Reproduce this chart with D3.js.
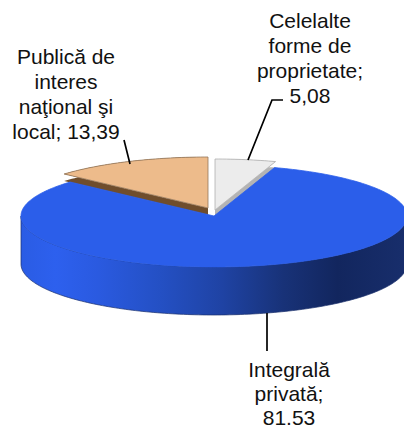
<!DOCTYPE html>
<html>
<head>
<meta charset="utf-8">
<script src="https://cdn.jsdelivr.net/npm/d3@7"></script>
<style>
html, body { margin: 0; padding: 0; background: #fff; overflow: hidden; }
svg { display: block; }
text { font-family: "Liberation Sans", Arial, sans-serif; font-size: 21px; fill: #111; }
</style>
</head>
<body>
<svg id="chart" width="404" height="430"></svg>
<script>
// order is clockwise from 12 o'clock, same as the picture
var categories = ['Celelalte forme de proprietate', 'Integrală privată', 'Publică de interes național și local'];
var values = [5.08, 81.53, 13.39];
var labelLines = [
  ['Celelalte', 'forme de', 'proprietate;', '5,08'],
  ['Integrală', 'privată;', '81.53'],
  ['Publică de', 'interes', 'naţional şi', 'local; 13,39']
];
var topColors = ['#ececec', '#2b5eea', '#edbb8b'];
var wallColors = ['#b4b4b4', '#2b5eea', '#6f4d2c'];
var edgeColors = ['#b0b0b0', '#2b5eea', '#94775a'];

var width = 404, height = 430;
var rx = 193, ry = 51, depth = 48;
var center = {x: 214, y: 216};
// exploded slices sit a bit off the main disc
var shift = [{x: 1, y: -6}, {x: 0, y: 0}, {x: -6, y: -8}];
var wallDepth = [6, depth, 7];
// bottom label pulled up a little so its last line stays inside the window
var labelPos = [{x: 310, y: 28}, {x: 289, y: 377}, {x: 66, y: 64}];
var lineH = [25, 24, 25];

var leaders = [
  [[283, 100], [272, 100], [248, 160]],
  [[267, 313], [267, 351]],
  [[124, 140], [130, 164]]
];

var svg = d3.select('#chart');
var xScale = d3.scaleLinear().domain([-1, 1]).range([-rx, rx]);
var yScale = d3.scaleLinear().domain([-1, 1]).range([-ry, ry]);

var pie = d3.pie().sort(null).startAngle(0).endAngle(2 * Math.PI);
var arcs = pie(values);

var line = d3.line().x(function(d) { return d[0]; }).y(function(d) { return d[1]; });

function rim(a0, a1, cx, cy) {
  var n = Math.max(2, Math.ceil((a1 - a0) / 0.02));
  return d3.range(n + 1).map(function(i) {
    var a = a0 + (a1 - a0) * i / n;
    return [cx + xScale(Math.sin(a)), cy + yScale(-Math.cos(a))];
  });
}

var grad = svg.append('defs').append('linearGradient')
  .attr('id', 'wall').attr('gradientUnits', 'userSpaceOnUse')
  .attr('x1', center.x - rx).attr('x2', center.x + rx).attr('y1', 0).attr('y2', 0);
[[0, '#2a5ce4'], [0.09, '#2d60ee'], [0.2, '#2a5ae0'], [0.36, '#2450c4'], [0.52, '#1f43a4'],
 [0.68, '#183278'], [0.82, '#12265e'], [1, '#182e6c']].forEach(function(s) {
  grad.append('stop').attr('offset', s[0]).attr('stop-color', s[1]);
});

function drawSlice(i) {
  var d = arcs[i];
  var cx = center.x + shift[i].x, cy = center.y + shift[i].y, h = wallDepth[i];
  var pts = rim(d.startAngle, d.endAngle, cx, cy);
  var g = svg.append('g');

  // walls first, whatever is hidden gets painted over by the top face
  if (i == 1) {
    var front = rim(Math.PI / 2, 3 * Math.PI / 2, cx, cy);
    var low = front.map(function(p) { return [p[0], p[1] + h]; }).reverse();
    g.append('path')
      .attr('d', line(front.concat(low)) + 'Z')
      .attr('fill', 'url(#wall)')
      .attr('stroke', '#1a2f6c').attr('stroke-width', 0.7);
  } else {
    var wall = [[cx, cy]].concat(pts).concat([[cx, cy]]);
    var low2 = wall.map(function(p) { return [p[0], p[1] + h]; }).reverse();
    g.append('path')
      .attr('d', line(wall.concat(low2)) + 'Z')
      .attr('fill', wallColors[i]);
  }

  g.append('path')
    .attr('d', line([[cx, cy]].concat(pts)) + 'Z')
    .attr('fill', topColors[i])
    .attr('stroke', edgeColors[i]).attr('stroke-width', 0.8);
}

// peach and white first, then the big blue disc on top of their walls
drawSlice(2);
drawSlice(0);
drawSlice(1);

leaders.forEach(function(l) {
  svg.append('path').attr('d', line(l))
    .attr('fill', 'none').attr('stroke', '#000').attr('stroke-width', 1.7);
});

labelLines.forEach(function(lines, i) {
  var t = svg.append('text').attr('text-anchor', 'middle');
  lines.forEach(function(s, k) {
    t.append('tspan').attr('x', labelPos[i].x).attr('y', labelPos[i].y + k * lineH[i]).text(s);
  });
});
</script>
</body>
</html>
